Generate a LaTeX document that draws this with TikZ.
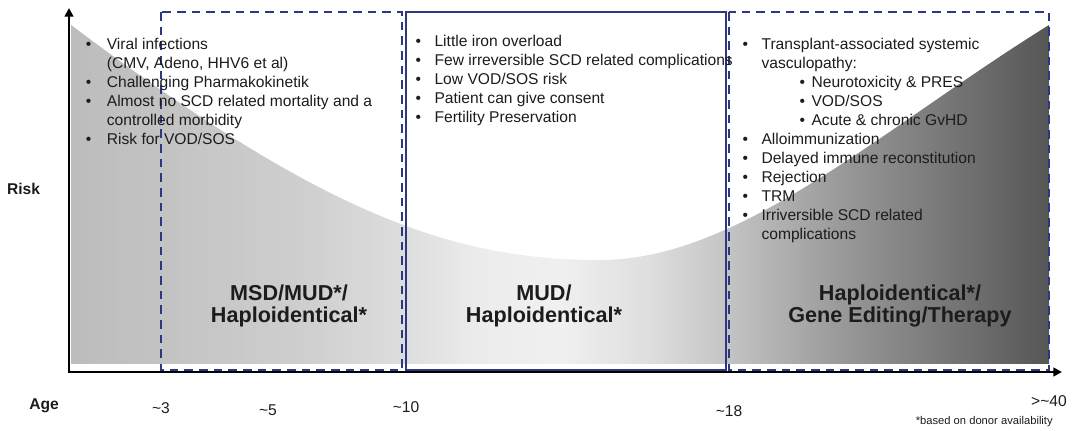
\documentclass[tikz,border=0pt]{standalone}
\usepackage{fontspec}
\setmainfont{Liberation Sans}
\usepackage{xcolor}
\usepackage{tikz}
\usetikzlibrary{arrows.meta}

\definecolor{boxblue}{RGB}{44,56,128}
\definecolor{txtdark}{RGB}{28,28,28}
\definecolor{shA}{RGB}{188,188,188}
\definecolor{shB}{RGB}{195,195,195}
\definecolor{shC}{RGB}{206,206,206}
\definecolor{shD}{RGB}{221,221,221}
\definecolor{shE}{RGB}{236,236,236}
\definecolor{shF}{RGB}{240,240,240}
\definecolor{shG}{RGB}{222,222,222}
\definecolor{shH}{RGB}{196,196,196}
\definecolor{shI}{RGB}{150,150,150}
\definecolor{shJ}{RGB}{86,86,86}

% grey band under the risk curve, light in the middle, dark to the right
\pgfdeclarehorizontalshading{riskshade}{100bp}{color(0bp)=(shA); color(25bp)=(shA); color(29.6bp)=(shB); color(36.7bp)=(shC); color(41.9bp)=(shD); color(45.9bp)=(shE); color(50bp)=(shF); color(54.6bp)=(shG); color(58.5bp)=(shH); color(64.8bp)=(shI); color(75bp)=(shJ); color(100bp)=(shJ)}

\newcommand{\listbul}[1]{\makebox[#1][l]{\textbullet}}

\begin{document}
\begin{tikzpicture}[x=0.75pt,y=0.75pt,yscale=-1,
	listtxt/.style={anchor=north west,inner sep=0pt,align=left,text=txtdark,font=\fontsize{11.7}{14.25}\selectfont},
	boldlbl/.style={inner sep=0pt,align=center,text=txtdark,font=\bfseries\fontsize{16.2}{16.5}\selectfont},
	axistxt/.style={anchor=base,inner sep=0pt,text=txtdark,font=\fontsize{11.7}{14}\selectfont},
	dashbox/.style={draw=boxblue,line width=1.5pt,dash pattern=on 6.5pt off 4.5pt},
	solidbox/.style={draw=boxblue,line width=1.5pt},
	axisline/.style={draw=black,line width=1.75pt,line join=miter,>={Triangle[length=6.5pt,width=6.5pt]},<->}]
	\useasboundingbox (0,0) rectangle (1076,431);
	
	%Shape: Curve area
	\path [shading=riskshade] (71,25) .. controls (320,212) and (450,260) .. (600,260) .. controls (740,260) and (880,130) .. (1049,25) -- (1049,364) -- (71,364) -- cycle ;
	
	%Shape: Rectangle
	\draw [dashbox] (161,12) rectangle (402,370) ;
	%Shape: Rectangle
	\draw [solidbox] (406,12) rectangle (726,370) ;
	%Shape: Rectangle
	\draw [dashbox] (729,12) rectangle (1049,370) ;
	
	%Straight Lines
	\coordinate (orig) at (69,372) ;
	\coordinate (ytip) at (69,8) ;
	\coordinate (xtip) at (1062,372) ;
	\draw [axisline] (ytip) -- (orig) -- (xtip) ;
	
	% Text Node
	\node (young) [listtxt] at (85.6,37.5) {\listbul{15.75pt}Viral infections\\
		\hspace*{15.75pt}(CMV, Adeno, HHV6 et al)\\
		\listbul{15.75pt}Challenging Pharmakokinetik\\
		\listbul{15.75pt}Almost no SCD related mortality and a\\
		\hspace*{15.75pt}controlled morbidity\\
		\listbul{15.75pt}Risk for VOD/SOS};
	% Text Node
	\node (teen) [listtxt] at (415.3,35) {\listbul{14.25pt}Little iron overload\\
		\listbul{14.25pt}Few irreversible SCD related complications\\
		\listbul{14.25pt}Low VOD/SOS risk\\
		\listbul{14.25pt}Patient can give consent\\
		\listbul{14.25pt}Fertility Preservation};
	% Text Node
	\node (adult) [listtxt] at (742.3,37.5) {\listbul{14.25pt}Transplant-associated systemic\\
		\hspace*{14.25pt}vasculopathy:\\
		\hspace*{42.75pt}\listbul{9pt}Neurotoxicity \& PRES\\
		\hspace*{42.75pt}\listbul{9pt}VOD/SOS\\
		\hspace*{42.75pt}\listbul{9pt}Acute \& chronic GvHD\\
		\listbul{14.25pt}Alloimmunization\\
		\listbul{14.25pt}Delayed immune reconstitution\\
		\listbul{14.25pt}Rejection\\
		\listbul{14.25pt}TRM\\
		\listbul{14.25pt}Irriversible SCD related\\
		\hspace*{14.25pt}complications};
	
	% Text Node
	\node (donorA) [boldlbl] at (289,306) {MSD/MUD*/\\Haploidentical*};
	% Text Node
	\node (donorB) [boldlbl] at (544,306) {MUD/\\Haploidentical*};
	% Text Node
	\node (donorC) [boldlbl] at (900,306) {Haploidentical*/\\Gene Editing/Therapy};
	
	% Text Node
	\node (risk) [axistxt,font=\bfseries\fontsize{11.7}{14}\selectfont] at (23.5,194.6) {Risk};
	% Text Node
	\node (age) [axistxt,font=\bfseries\fontsize{11.7}{14}\selectfont] at (44,409.6) {Age};
	% Text Node
	\node (ageA) [axistxt] at (161,413.5) {\textasciitilde 3};
	% Text Node
	\node (ageB) [axistxt] at (268,415.5) {\textasciitilde 5};
	% Text Node
	\node (ageC) [axistxt] at (406,412.5) {\textasciitilde 10};
	% Text Node
	\node (ageD) [axistxt] at (729,416.5) {\textasciitilde 18};
	% Text Node
	\node (ageE) [axistxt] at (1049,406.5) {>\textasciitilde 40};
	% Text Node
	\node (foot) [axistxt,anchor=base east,font=\fontsize{8.4}{10}\selectfont] at (1053,424) {*based on donor availability};
	
\end{tikzpicture}
\end{document}
